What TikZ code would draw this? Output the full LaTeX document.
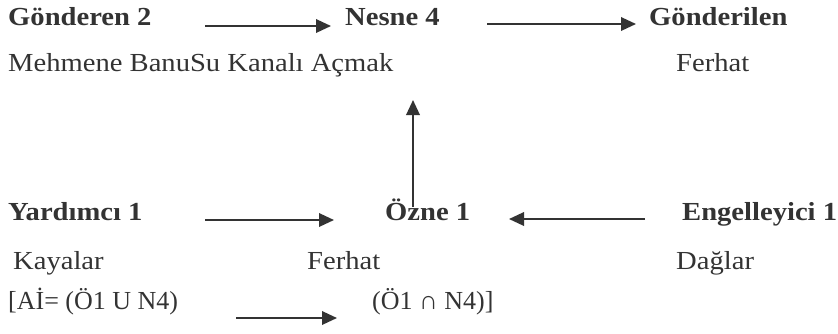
\documentclass[tikz,border=0pt]{standalone}
\usepackage{fontspec}
\setmainfont{Liberation Serif}[FakeStretch=1.1]
\newfontfamily\narrowserif{Liberation Serif}[FakeStretch=1.0]
\usetikzlibrary{arrows.meta}
\definecolor{ink}{HTML}{333333}
\begin{document}
\begin{tikzpicture}[x=1pt,y=-1pt,
  lbl/.style={anchor=base west,inner sep=0pt,text=ink,font=\fontsize{26}{30}\selectfont},
  nlbl/.style={anchor=base west,inner sep=0pt,text=ink,font=\narrowserif\fontsize{26}{30}\selectfont},
  hd/.style={anchor=base west,inner sep=0pt,text=ink,font=\fontsize{26}{30}\selectfont\bfseries},
  arr/.style={draw=ink,line width=1.9pt,-{Triangle[length=15pt,width=13.5pt]}}]
\useasboundingbox (0,0) rectangle (838,333);
% row 1
\node[hd] (g2) at (8,25) {Gönderen 2};
\node[hd] (n4) at (345,25) {Nesne 4};
\node[hd] (gl) at (649,25) {Gönderilen};
% row 2
\node[lbl] (mb) at (8,71) {Mehmene BanuSu Kanalı Açmak};
\node[lbl] (f1) at (676,71) {Ferhat};
% row 3
\node[hd] (y1) at (8,220) {Yardımcı 1};
\node[hd] (o1) at (385,220) {Özne 1};
\node[hd] (e1) at (682,220) {Engelleyici 1};
% row 4
\node[lbl] (ky) at (13,269) {Kayalar};
\node[lbl] (f2) at (307,269) {Ferhat};
\node[lbl] (dg) at (676,269) {Dağlar};
% row 5
\node[nlbl] (ai) at (8,309) {[Aİ= (Ö1 U N4)};
\node[nlbl] (on) at (372,309) {(Ö1 ∩ N4)]};
% arrow end points
\coordinate (a1s) at (205,26); \coordinate (a1e) at (331,26);
\coordinate (a2s) at (487,24); \coordinate (a2e) at (636,24);
\coordinate (vs) at (413,207); \coordinate (ve) at (413,100);
\coordinate (a3s) at (205,220); \coordinate (a3e) at (334,220);
\coordinate (a4s) at (645,219); \coordinate (a4e) at (509,219);
\coordinate (a5s) at (236,318); \coordinate (a5e) at (337,318);
\draw[arr] (a1s) -- (a1e);
\draw[arr] (a2s) -- (a2e);
\draw[arr] (vs) -- (ve);
\draw[arr] (a3s) -- (a3e);
\draw[arr] (a4s) -- (a4e);
\draw[arr] (a5s) -- (a5e);
\end{tikzpicture}
\end{document}
